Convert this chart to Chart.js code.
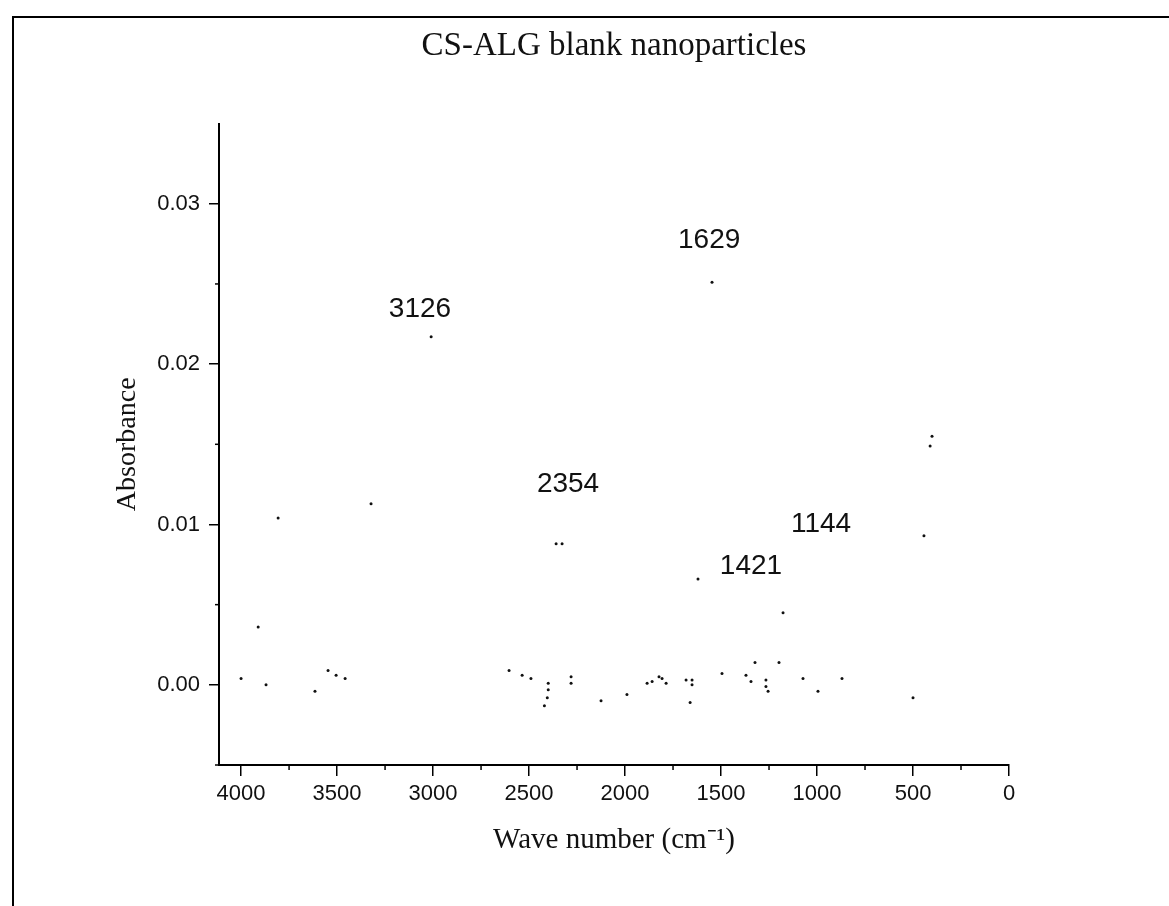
<!DOCTYPE html>
<html>
<head>
<meta charset="utf-8">
<title>CS-ALG blank nanoparticles</title>
<script src="https://cdn.jsdelivr.net/npm/chart.js@4.4.0/dist/chart.umd.min.js"></script>
<style>
  html, body { margin: 0; padding: 0; background: #fff; overflow: hidden; }
  #wrap  { position: relative; width: 1169px; height: 906px; }
  #frame { position: absolute; left: 12px; top: 16px; width: 1200px; height: 950px;
           border-top: 2px solid #000; border-left: 2px solid #000; }
  #chart { position: absolute; left: 0; top: 0; }
</style>
</head>
<body>
<div id="wrap">
  <div id="frame"></div>
  <canvas id="chart" width="1169" height="906"></canvas>
</div>
<script>
/* ── Data (only the specks that survived) ── */
const wavenumber = [
  4000, 3911, 3870, 3807, 3615, 3547, 3505, 3458, 3323, 3010,
  2604, 2536, 2490, 2400, 2400, 2405, 2420, 2359, 2328, 2281,
  2281, 2125, 1990, 1885, 1859, 1823, 1807, 1786, 1682, 1651,
  1651, 1661, 1620, 1547, 1495, 1370, 1344, 1323, 1266, 1266,
  1255, 1198, 1177, 1073, 995, 870, 500, 443, 411, 401
];
const absorbance = [
  0.0004, 0.0036, 0.0000, 0.0104, -0.0004, 0.0009, 0.0006, 0.0004, 0.0113, 0.0217,
  0.0009, 0.0006, 0.0004, 0.0001, -0.0003, -0.0008, -0.0013, 0.0088, 0.0088, 0.0005,
  0.0001, -0.0010, -0.0006, 0.0001, 0.0002, 0.0005, 0.0004, 0.0001, 0.0003, 0.0003,
  0.0000, -0.0011, 0.0066, 0.0251, 0.0007, 0.0006, 0.0002, 0.0014, 0.0003, -0.0001,
  -0.0004, 0.0014, 0.0045, 0.0004, -0.0004, 0.0004, -0.0008, 0.0093, 0.0149, 0.0155
];

// peak annotations (text centre, in data units)
const peakLabels = ["3126", "1629", "2354", "1144", "1421"];
const peakX      = [3068, 1562, 2297, 979, 1344];
const peakY      = [0.0234, 0.0277, 0.0125, 0.0100, 0.0074];

// axis ticks
const xTicks      = [4000, 3500, 3000, 2500, 2000, 1500, 1000, 500, 0];
const xTickLabels = ["4000", "3500", "3000", "2500", "2000", "1500", "1000", "500", "0"];
const xMinor      = [3750, 3250, 2750, 2250, 1750, 1250, 750, 250];
const yTicks      = [0, 0.01, 0.02, 0.03];
const yTickLabels = ["0.00", "0.01", "0.02", "0.03"];
const yMinor      = [-0.005, 0.005, 0.015, 0.025];

const SANS  = '"Liberation Sans", Arial, sans-serif';
const SERIF = '"Liberation Serif", "Times New Roman", serif';

/* ── Minor tick marks ─────────────────────────────── */
const minorTicks = {
  id: "minorTicks",
  afterDraw(chart) {
    const { ctx, scales: { x, y } } = chart;
    ctx.save();
    ctx.strokeStyle = "#000";
    ctx.lineWidth = 1.5;
    xMinor.forEach(v => {
      const px = x.getPixelForValue(v);
      ctx.beginPath(); ctx.moveTo(px, x.top); ctx.lineTo(px, x.top + 5); ctx.stroke();
    });
    yMinor.forEach(v => {
      const py = y.getPixelForValue(v);
      ctx.beginPath(); ctx.moveTo(y.right, py); ctx.lineTo(y.right - 4, py); ctx.stroke();
    });
    ctx.restore();
  }
};

/* ── Peak wavenumber labels ───────────────────────── */
const peakText = {
  id: "peakText",
  afterDatasetsDraw(chart) {
    const { ctx, scales: { x, y } } = chart;
    ctx.save();
    ctx.font = "28px " + SANS;
    ctx.fillStyle = "#111";
    ctx.textAlign = "center";
    ctx.textBaseline = "middle";
    peakLabels.forEach((t, i) => {
      ctx.fillText(t, x.getPixelForValue(peakX[i]), y.getPixelForValue(peakY[i]));
    });
    ctx.restore();
  }
};

new Chart(document.getElementById("chart"), {
  type: "scatter",
  data: {
    datasets: [{
      label: "CS-ALG blank nanoparticles",
      data: wavenumber.map((w, i) => ({ x: w, y: absorbance[i] })),
      pointRadius: 1.5,
      pointBackgroundColor: "#111",
      pointBorderWidth: 0,
      showLine: false,
    }]
  },
  options: {
    responsive: false,
    animation: false,
    events: [],
    layout: { padding: { left: 0, right: 160, top: 0, bottom: 0 } },
    plugins: {
      legend: { display: false },
      tooltip: { enabled: false },
      title: {
        display: true,
        text: "CS-ALG blank nanoparticles",
        color: "#111",
        fullSize: false,
        font: { family: SERIF, size: 33, weight: "normal" },
        padding: { top: 27, bottom: 57 }
      }
    },
    scales: {
      x: {
        type: "linear",
        reverse: true,
        min: 0,
        max: 4115,
        afterBuildTicks: s => { s.ticks = xTicks.map(v => ({ value: v })); },
        afterFit: s => { s.height = 141; },
        ticks: {
          color: "#111",
          font: { family: SANS, size: 22 },
          padding: 5,
          maxRotation: 0,
          autoSkip: false,
          callback: (v, i) => xTickLabels[i]
        },
        grid: { drawOnChartArea: false, drawTicks: true, tickLength: 11, color: "#000", lineWidth: 1.5 },
        border: { display: true, color: "#000", width: 2 },
        title: {
          display: true,
          text: "Wave number (cm\u207B\u00B9)",
          color: "#111",
          font: { family: SERIF, size: 29 },
          padding: { top: 0, bottom: 48 }
        }
      },
      y: {
        type: "linear",
        min: -0.005,
        max: 0.035,
        afterBuildTicks: s => { s.ticks = yTicks.map(v => ({ value: v })); },
        afterFit: s => { s.width = 219; },
        ticks: {
          color: "#111",
          font: { family: SANS, size: 22 },
          padding: 9,
          callback: (v, i) => yTickLabels[i]
        },
        grid: { drawOnChartArea: false, drawTicks: true, tickLength: 10, color: "#000", lineWidth: 1.5 },
        border: { display: true, color: "#000", width: 2 },
        title: {
          display: true,
          text: "Absorbance",
          color: "#111",
          font: { family: SERIF, size: 28 },
          padding: { top: 111, bottom: 0 }
        }
      }
    }
  },
  plugins: [minorTicks, peakText]
});
</script>
</body>
</html>
